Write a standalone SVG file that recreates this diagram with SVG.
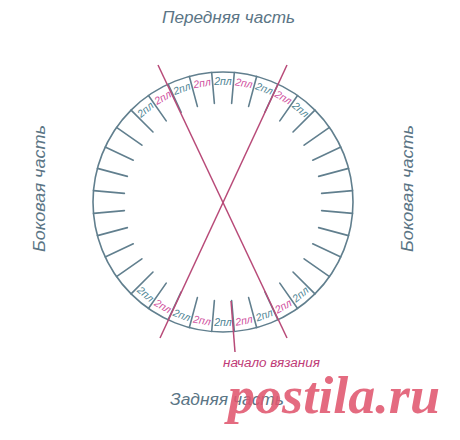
<svg xmlns="http://www.w3.org/2000/svg" width="460" height="440" viewBox="0 0 460 440">
<style>
.circ{fill:none;stroke:#617f8e;stroke-width:1.6}
.tick{stroke:#617f8e;stroke-width:1.6;stroke-linecap:round}
.pink{stroke:#b84a78;stroke-width:1.5;fill:none}
.lbl{font-family:"Liberation Sans",Arial,sans-serif;font-style:italic;font-size:10.5px;text-anchor:middle}
.t{fill:#4d8494}
.p{fill:#cf4f9e}
.side{font-family:"Liberation Sans",Arial,sans-serif;font-style:italic;font-size:16px;fill:#5b7585}
.start{font-family:"Liberation Sans",Arial,sans-serif;font-style:italic;font-size:12px;fill:#c03c78}
.wm{font-family:"Liberation Serif","Times New Roman",serif;font-style:italic;font-weight:bold;font-size:53px;fill:#e0566e;fill-opacity:0.88}
</style>
<defs>
<line id="tk" x1="223" y1="72" x2="223" y2="103" class="tick"/>
</defs>
<g id="circle">
<circle cx="223" cy="202" r="130" class="circ"/>
<g id="ticks">
<use href="#tk" transform="rotate(5 223 202)"/>
<use href="#tk" transform="rotate(15 223 202)"/>
<use href="#tk" transform="rotate(25 223 202)"/>
<use href="#tk" transform="rotate(35 223 202)"/>
<use href="#tk" transform="rotate(45 223 202)"/>
<use href="#tk" transform="rotate(55 223 202)"/>
<use href="#tk" transform="rotate(65 223 202)"/>
<use href="#tk" transform="rotate(75 223 202)"/>
<use href="#tk" transform="rotate(85 223 202)"/>
<use href="#tk" transform="rotate(95 223 202)"/>
<use href="#tk" transform="rotate(105 223 202)"/>
<use href="#tk" transform="rotate(115 223 202)"/>
<use href="#tk" transform="rotate(125 223 202)"/>
<use href="#tk" transform="rotate(135 223 202)"/>
<use href="#tk" transform="rotate(145 223 202)"/>
<use href="#tk" transform="rotate(155 223 202)"/>
<use href="#tk" transform="rotate(165 223 202)"/>
<use href="#tk" transform="rotate(175 223 202)"/>
<use href="#tk" transform="rotate(185 223 202)"/>
<use href="#tk" transform="rotate(195 223 202)"/>
<use href="#tk" transform="rotate(205 223 202)"/>
<use href="#tk" transform="rotate(215 223 202)"/>
<use href="#tk" transform="rotate(225 223 202)"/>
<use href="#tk" transform="rotate(235 223 202)"/>
<use href="#tk" transform="rotate(245 223 202)"/>
<use href="#tk" transform="rotate(255 223 202)"/>
<use href="#tk" transform="rotate(265 223 202)"/>
<use href="#tk" transform="rotate(275 223 202)"/>
<use href="#tk" transform="rotate(285 223 202)"/>
<use href="#tk" transform="rotate(295 223 202)"/>
<use href="#tk" transform="rotate(305 223 202)"/>
<use href="#tk" transform="rotate(315 223 202)"/>
<use href="#tk" transform="rotate(325 223 202)"/>
<use href="#tk" transform="rotate(335 223 202)"/>
<use href="#tk" transform="rotate(345 223 202)"/>
<use href="#tk" transform="rotate(355 223 202)"/>
</g>
</g>
<g id="connectors">
<line x1="158" y1="65" x2="287" y2="338" class="pink"/>
<line x1="287" y1="65" x2="160" y2="338" class="pink"/>
<line x1="231" y1="301" x2="235" y2="352" class="pink"/>
</g>
<g id="top-labels" class="lbl">
<text x="223" y="85" class="t" transform="rotate(-40 223 202)">2пл</text>
<text x="223" y="85" class="p" transform="rotate(-30 223 202)">2пл</text>
<text x="223" y="85" class="t" transform="rotate(-20 223 202)">2пл</text>
<text x="223" y="85" class="p" transform="rotate(-10 223 202)">2пл</text>
<text x="223" y="85" class="t">2пл</text>
<text x="223" y="85" class="p" transform="rotate(10 223 202)">2пл</text>
<text x="223" y="85" class="t" transform="rotate(20 223 202)">2пл</text>
<text x="223" y="85" class="p" transform="rotate(30 223 202)">2пл</text>
<text x="223" y="85" class="t" transform="rotate(40 223 202)">2пл</text>
</g>
<g id="bottom-labels" class="lbl">
<text x="223" y="326" class="t" transform="rotate(40 223 202)">2пл</text>
<text x="223" y="326" class="p" transform="rotate(30 223 202)">2пл</text>
<text x="223" y="326" class="t" transform="rotate(20 223 202)">2пл</text>
<text x="223" y="326" class="p" transform="rotate(10 223 202)">2пл</text>
<text x="223" y="326" class="t">2пл</text>
<text x="223" y="326" class="p" transform="rotate(-10 223 202)">2пл</text>
<text x="223" y="326" class="t" transform="rotate(-20 223 202)">2пл</text>
<text x="223" y="326" class="p" transform="rotate(-30 223 202)">2пл</text>
<text x="223" y="326" class="t" transform="rotate(-40 223 202)">2пл</text>
</g>
<g id="front"><text x="162" y="23" class="side" textLength="133" lengthAdjust="spacingAndGlyphs">Передняя часть</text></g>
<g id="left-side"><text x="0" y="0" class="side" transform="translate(45 252) rotate(-90)" textLength="127" lengthAdjust="spacingAndGlyphs">Боковая часть</text></g>
<g id="right-side"><text x="0" y="0" class="side" transform="translate(413 252) rotate(-90)" textLength="127" lengthAdjust="spacingAndGlyphs">Боковая часть</text></g>
<g id="back"><text x="170" y="405" class="side" textLength="114" lengthAdjust="spacingAndGlyphs">Задняя часть</text></g>
<g id="start-label"><text x="223" y="367" class="start" textLength="97" lengthAdjust="spacingAndGlyphs">начало вязания</text></g>
<g id="watermark"><text x="228" y="413" class="wm" textLength="212" lengthAdjust="spacingAndGlyphs">postila.ru</text></g>
</svg>
